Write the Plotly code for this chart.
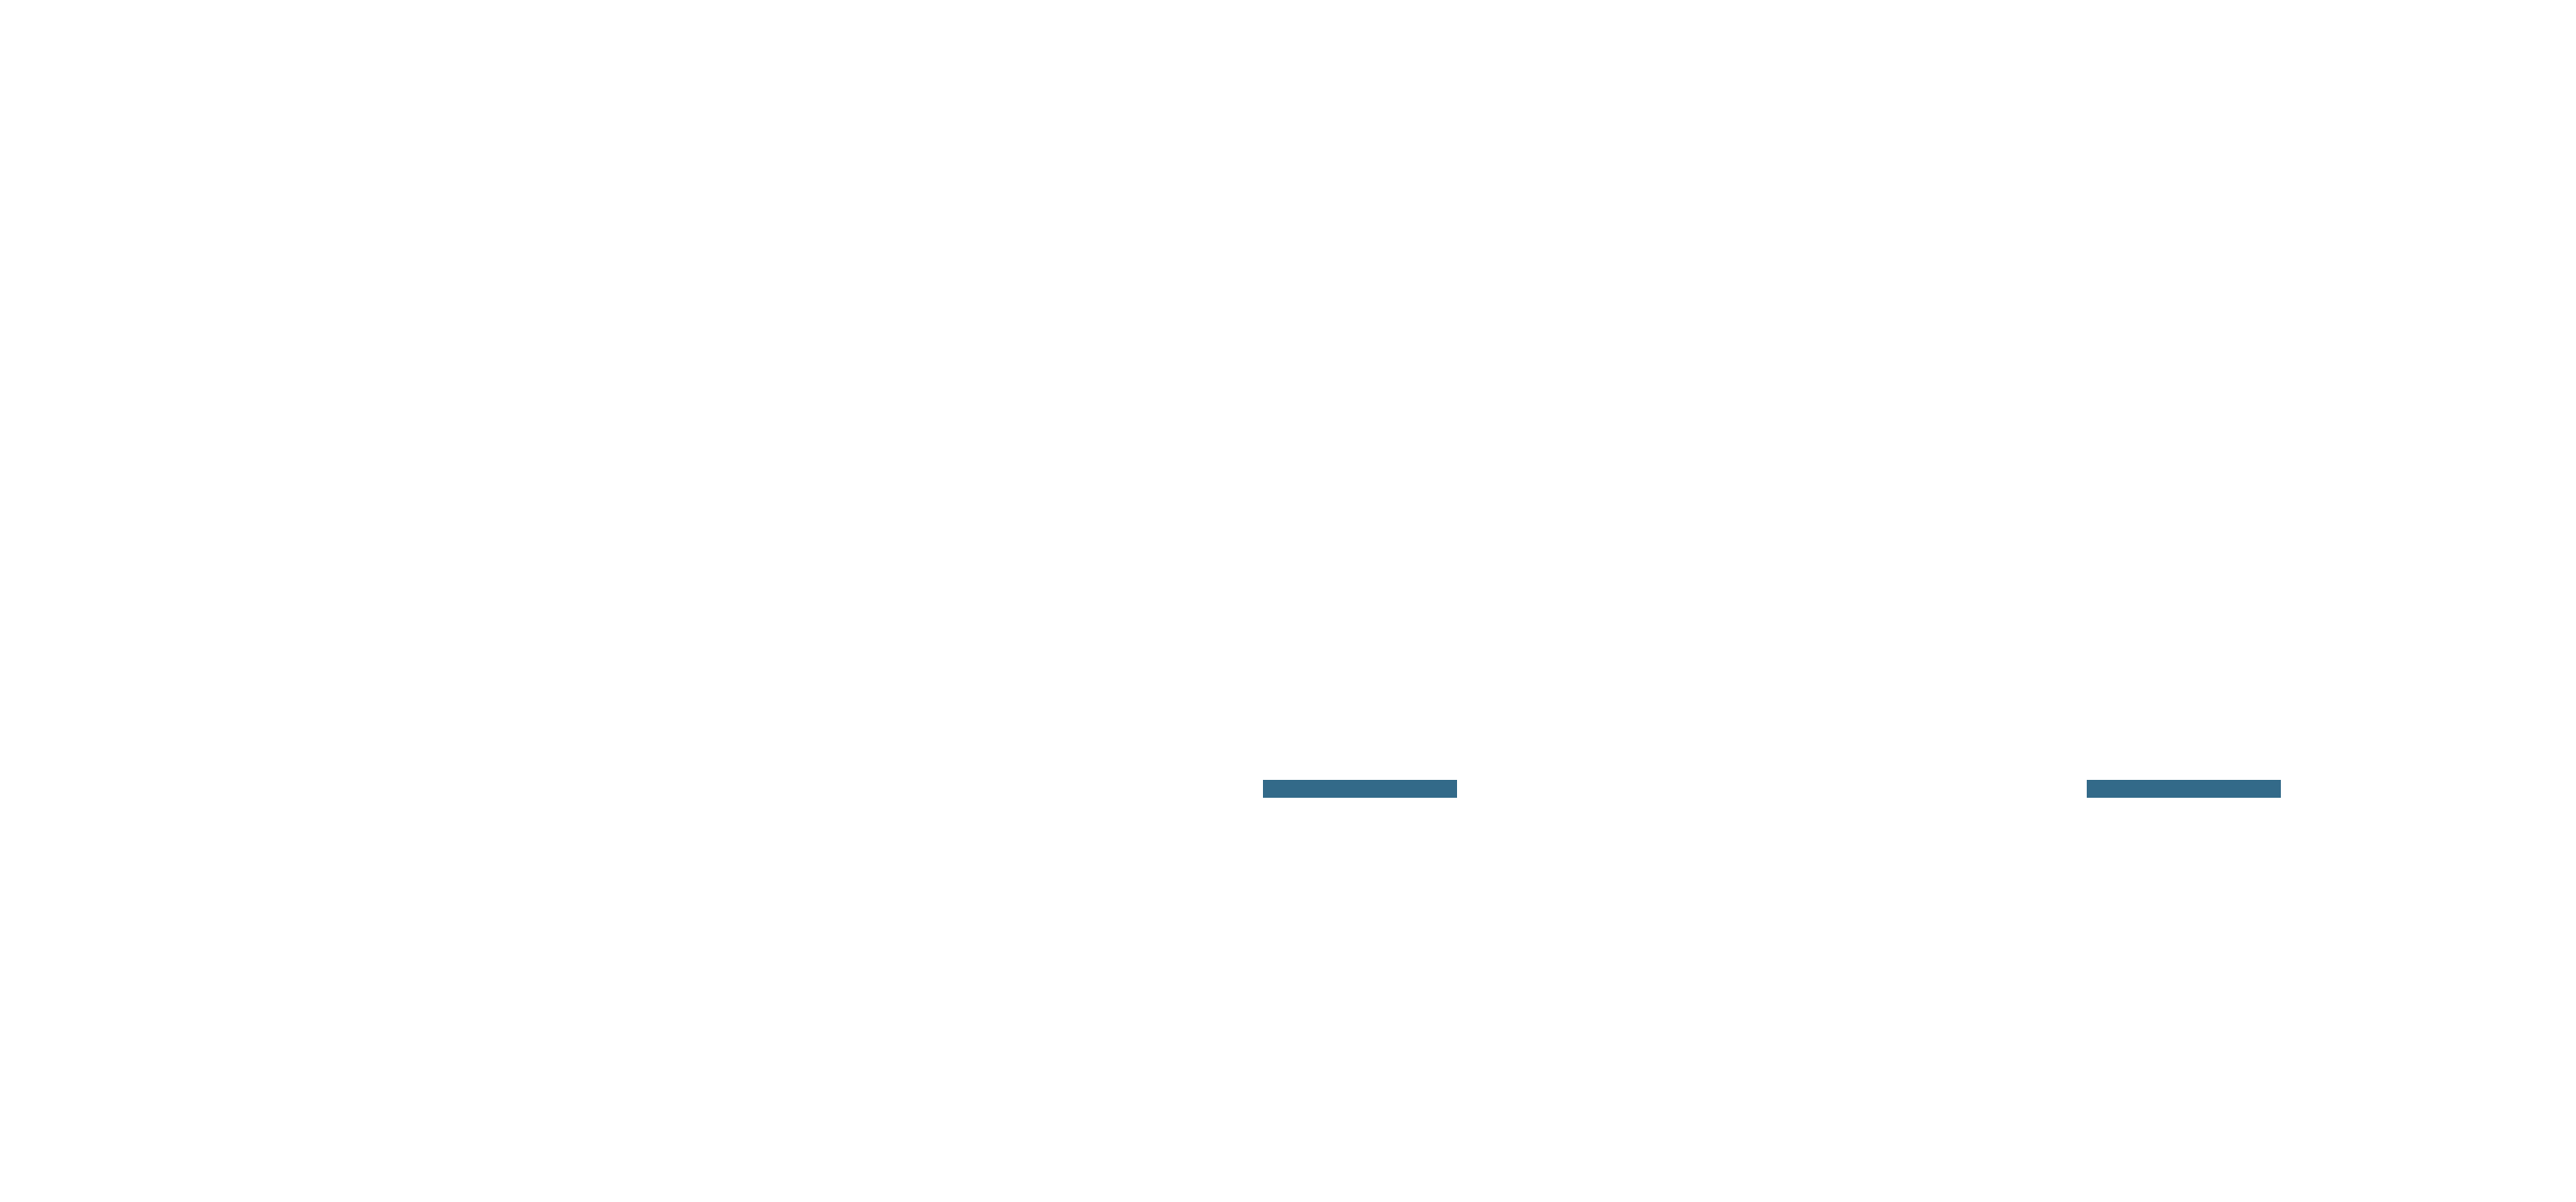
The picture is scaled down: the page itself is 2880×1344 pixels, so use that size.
import plotly.graph_objects as go

# Data
categories = ["A", "B"]
low_values = [33.43, 33.43]
high_values = [34.94, 34.94]

bar_color = "#336a89"

fig = go.Figure()
fig.add_trace(go.Bar(
    x=categories,
    y=[h - l for h, l in zip(high_values, low_values)],
    base=low_values,
    width=0.2356,
    marker=dict(color=bar_color, line=dict(width=0)),
    showlegend=False,
    hoverinfo="skip",
))

fig.update_layout(
    paper_bgcolor="white",
    plot_bgcolor="white",
    margin=dict(l=0, r=0, t=0, b=0),
    xaxis=dict(visible=False, range=[-1.6422, 1.4674]),
    yaxis=dict(visible=False, range=[0, 100]),
    showlegend=False,
)

fig.write_html("out.html")
